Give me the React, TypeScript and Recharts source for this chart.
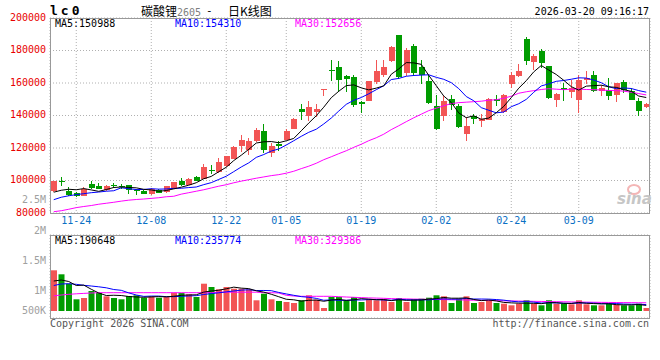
import React from 'react';
import { ComposedChart, Bar, Line, XAxis, YAxis, CartesianGrid, Cell } from 'recharts';

const dates = [
  '11-19', '11-20', '11-21', '11-24', '11-25', '11-26', '11-27', '11-28',
  '12-01', '12-02', '12-03', '12-04', '12-05', '12-08', '12-09', '12-10', '12-11', '12-12',
  '12-15', '12-16', '12-17', '12-18', '12-19', '12-22', '12-23', '12-24', '12-25', '12-26',
  '12-29', '12-30', '12-31',
  '01-05', '01-06', '01-07', '01-08', '01-09', '01-12', '01-13', '01-14', '01-15', '01-16',
  '01-19', '01-20', '01-21', '01-22', '01-23', '01-26', '01-27', '01-28', '01-29', '01-30',
  '02-02', '02-03', '02-04', '02-05', '02-06', '02-09', '02-10', '02-11', '02-12', '02-13',
  '02-24', '02-25', '02-26', '02-27',
  '03-02', '03-03', '03-04', '03-05', '03-06', '03-09', '03-10', '03-11', '03-12', '03-13',
  '03-16', '03-17', '03-18', '03-19', '03-20',
];

const opens = [
  93300, 99600, 93700, 92300, 90300, 97800, 96800, 93900, 97100, 96700,
  97000, 94200, 93700, 91900, 93900, 93000, 95000, 99400, 97000, 101900,
  101100, 106300, 105000, 108700, 113400, 121400, 118500, 124100, 130200, 116900,
  122600, 124700, 131900, 144200, 139400, 142200, 156000, 168200, 169600, 164100,
  163400, 148100, 149100, 160400, 164700, 173700, 189700, 166200, 182500, 169600,
  161400, 146000, 139900, 150400, 146000, 128800, 139900, 136800, 137400, 150400,
  141900, 159600, 164500, 187300, 172700, 179400, 170200, 149700, 156900, 154500,
  149700, 161600, 165100, 154800, 155900, 152400, 160400, 154800, 148700, 145000,
];

const highs = [
  99800, 102300, 96000, 93000, 95800, 99600, 98500, 97000, 98500, 98000,
  97500, 94500, 94000, 95500, 94500, 96800, 99000, 101500, 101300, 102500,
  110200, 109300, 113800, 115300, 121000, 128200, 126000, 132300, 134800, 123300,
  124100, 131500, 138200, 147000, 148700, 147100, 156500, 174300, 173700, 165100,
  165100, 148700, 161200, 174300, 174300, 182500, 189700, 181500, 184000, 174000,
  165100, 152800, 152200, 152800, 147100, 139100, 141100, 141000, 150800, 152800,
  153400, 166800, 171900, 188300, 177800, 181100, 170500, 154000, 160000, 162000,
  165100, 167100, 167600, 158900, 163100, 160300, 161600, 156900, 150800, 148000,
];

const lows = [
  93000, 97000, 90200, 90000, 90000, 94800, 94700, 93500, 95500, 94800,
  92000, 90800, 91500, 91000, 92000, 92500, 94800, 96800, 96800, 99700,
  101000, 104000, 104500, 108300, 113000, 118000, 115500, 123500, 117000, 114800,
  118000, 124500, 131500, 137400, 136400, 139400, 152300, 161400, 154800, 154800,
  145500, 141500, 148800, 159600, 164100, 172700, 162500, 164500, 164100, 159000,
  147500, 131500, 137000, 143600, 132200, 124100, 134800, 133000, 137000, 146200,
  141500, 156900, 164000, 170800, 168200, 169200, 150500, 145600, 148700, 150800,
  141900, 158900, 154500, 152200, 149700, 148700, 153800, 149400, 139900, 145000,
];

const closes = [
  99400, 99400, 90800, 90500, 95000, 95300, 95000, 96400, 96800, 96500,
  94000, 93800, 91700, 95000, 92300, 96400, 98800, 97000, 101000, 100000,
  108600, 106000, 111400, 114800, 120500, 125100, 124100, 130800, 118500, 121400,
  121400, 130200, 138000, 141900, 145200, 144000, 156500, 167200, 161600, 162700,
  146200, 147300, 161000, 167100, 169600, 181900, 163700, 180500, 166200, 165100,
  148000, 131900, 148700, 146600, 132700, 133300, 137800, 138000, 150300, 149200,
  152800, 164700, 167100, 173300, 176400, 172300, 150800, 153400, 155400, 156900,
  161600, 163100, 154800, 156900, 151800, 160000, 155900, 149700, 142500, 147200,
];

// MA values before a full window exists
const ma5Head = [92800, 94000, 94600, 94300];
const ma10Head = [88200, 89700, 90600, 91300, 91900, 92500, 92900, 93400, 93700];

const ma30 = [
  80800, 81400, 82300, 83300, 84000, 84600, 85400, 86000, 86600, 87300,
  87900, 88300, 88600, 89000, 89400, 90000, 90300, 91600, 92500, 93400,
  94300, 95400, 96500, 97400, 98600, 99600, 100500, 101400, 102200, 103000,
  103600, 104500, 105700, 107300, 108800, 110600, 112800, 114600, 116500, 118300,
  120400, 122300, 124500, 126300, 128500, 131300, 133700, 136200, 138600, 140800,
  143000, 144500, 146000, 147300, 147900, 148200, 148500, 148800, 149400, 149700,
  150600, 151900, 153700, 154600, 155300, 156000, 156500, 156200, 155900, 156200,
  156300, 156000, 155900, 155700, 155400, 155300, 155000, 154300, 153500, 152656,
];

const volumes = [
  1628000, 1468000, 1092000, 468000, 520000, 800000, 720000, 588000, 520000, 468000,
  600000, 628000, 532000, 588000, 532000, 560000, 732000, 720000, 668000, 560000,
  1092000, 960000, 868000, 960000, 892000, 892000, 868000, 428000, 692000, 468000,
  400000, 360000, 320000, 428000, 628000, 452000, 120000, 560000, 560000, 428000,
  560000, 360000, 468000, 428000, 468000, 360000, 520000, 360000, 468000, 492000,
  532000, 628000, 588000, 320000, 492000, 588000, 320000, 360000, 428000, 320000,
  292000, 228000, 292000, 428000, 292000, 228000, 428000, 292000, 292000, 268000,
  428000, 268000, 228000, 228000, 292000, 252000, 228000, 228000, 292000, 120000,
];

const volMa5Head = [1200000, 1240000, 1180000, 1020000];
const volMa10Head = [1020000, 1080000, 1092000, 1068000, 1028000, 1000000, 968000, 928000, 860000];

const volMa30 = [
  608000, 640000, 668000, 688000, 704000, 720000, 732000, 732000, 732000, 732000,
  732000, 732000, 732000, 732000, 732000, 732000, 732000, 732000, 732000, 732000,
  732000, 732000, 752000, 752000, 752000, 752000, 752000, 752000, 732000, 732000,
  720000, 628000, 600000, 588000, 588000, 588000, 588000, 588000, 572000, 560000,
  548000, 536000, 524000, 516000, 508000, 496000, 488000, 484000, 476000, 472000,
  468000, 462000, 456000, 450000, 444000, 438000, 432000, 426000, 420000, 414000,
  408000, 402000, 397000, 392000, 387000, 382000, 377000, 372000, 367000, 362000,
  358000, 354000, 350000, 346000, 342000, 339000, 336000, 334000, 331000, 329386,
];

const priceTicks = [80000, 100000, 120000, 140000, 160000, 180000, 200000];
const dateTicks = ['11-24', '12-08', '12-22', '01-05', '01-19', '02-02', '02-24', '03-09'];
const priceLegend = ['MA5:150988', 'MA10:154310', 'MA30:152656'];
const volumeLegend = ['MA5:190648', 'MA10:235774', 'MA30:329386'];

const RED = '#f25555';
const GREEN = '#009c00';
const MA_COLORS = ['#000000', '#0000ff', '#ff00ff'];
const GRID = '#b0b0b0';
const BORDER = '#999999';
const MONO = '"DejaVu Sans Mono", monospace';
const CJK = '"Noto Sans CJK SC", sans-serif';

const VOL_MIN = -280000;
const VOL_MAX = 3040000;
const volGrid = [0, 1, 2, 3, 4].map((k) => VOL_MIN + ((VOL_MAX - VOL_MIN) * k) / 4);

function movingAverage(values: number[], n: number, head: number[]) {
  return values.map((_, i) => {
    if (i < n - 1) return head[i];
    let s = 0;
    for (let k = i - n + 1; k <= i; k++) s += values[k];
    return Math.round(s / n);
  });
}

const ma5 = movingAverage(closes, 5, ma5Head);
const ma10 = movingAverage(closes, 10, ma10Head);
const volMa5 = movingAverage(volumes, 5, volMa5Head);
const volMa10 = movingAverage(volumes, 10, volMa10Head);

const priceData = dates.map((date, i) => ({
  date,
  open: opens[i],
  high: highs[i],
  low: lows[i],
  close: closes[i],
  range: [lows[i], highs[i]],
  ma5: ma5[i],
  ma10: ma10[i],
  ma30: ma30[i],
}));

const volumeData = dates.map((date, i) => ({
  date,
  vol: volumes[i],
  up: closes[i] >= opens[i],
  ma5: volMa5[i],
  ma10: volMa10[i],
  ma30: volMa30[i],
}));

const Candle = (props: any) => {
  const { x, y, width, height, payload } = props;
  if (!payload || x == null) return null;
  const { open, close, high, low } = payload;
  const color = close >= open ? RED : GREEN;
  const top = Math.min(y, y + height);
  const h = Math.abs(height);
  const span = high - low || 1;
  const toY = (v: number) => top + ((high - v) / span) * h;
  const cx = Math.round(x + width / 2);
  const bodyTop = Math.round(toY(Math.max(open, close)));
  const bodyBot = Math.round(toY(Math.min(open, close)));
  return (
    <g>
      <rect x={cx - 1} y={Math.round(top)} width={1} height={Math.max(1, Math.round(h))} fill={color} />
      <rect x={cx - 3} y={bodyTop} width={6} height={Math.max(1, bodyBot - bodyTop)} fill={color} />
    </g>
  );
};

const tickFont = { fontSize: 10, fontFamily: MONO };

const Legend = ({ items, top }: { items: string[]; top: number }) => (
  <>
    {items.map((t, i) => (
      <span
        key={t}
        style={{
          position: 'absolute',
          left: 55 + i * 120,
          top,
          fontSize: 10,
          lineHeight: '9px',
          height: 9,
          background: '#fff',
          color: MA_COLORS[i],
          whiteSpace: 'pre',
        }}
      >
        {t}
      </span>
    ))}
  </>
);

const volLabel = (text: string, centerY: number) => (
  <div
    key={text}
    style={{
      position: 'absolute',
      right: 614,
      top: centerY - 6,
      fontSize: 10,
      lineHeight: '12px',
      color: '#a0a0a0',
    }}
  >
    {text}
  </div>
);

export default function App() {
  return (
    <div
      style={{
        position: 'absolute',
        left: 0,
        top: 0,
        width: 660,
        height: 360,
        background: '#fff',
        overflow: 'hidden',
        fontFamily: MONO,
        color: '#000',
      }}
    >
      {/* price panel */}
      <div style={{ position: 'absolute', left: 0, top: 0 }}>
        <ComposedChart width={660} height={230} data={priceData} margin={{ top: 18, right: 10, bottom: 0, left: 0 }}>
          <CartesianGrid stroke={GRID} strokeDasharray="1 2" />
          <XAxis
            dataKey="date"
            ticks={dateTicks}
            interval={0}
            axisLine={false}
            tickLine={false}
            tickSize={0}
            tickMargin={4}
            height={17}
            tick={{ ...tickFont, fill: '#0a70c4' }}
          />
          <YAxis
            domain={[80000, 200000]}
            ticks={priceTicks}
            interval={0}
            allowDataOverflow
            width={50}
            axisLine={false}
            tickLine={false}
            tickSize={0}
            tickMargin={4}
            tick={{ ...tickFont, fill: '#e80000', dy: -1 }}
          />
          <Bar dataKey="range" barSize={6} isAnimationActive={false} shape={(p: any) => <Candle {...p} />} />
          <Line dataKey="ma30" stroke={MA_COLORS[2]} strokeWidth={1} dot={false} isAnimationActive={false} />
          <Line dataKey="ma10" stroke={MA_COLORS[1]} strokeWidth={1} dot={false} isAnimationActive={false} />
          <Line dataKey="ma5" stroke={MA_COLORS[0]} strokeWidth={1} dot={false} isAnimationActive={false} />
        </ComposedChart>
      </div>

      {/* volume panel */}
      <div style={{ position: 'absolute', left: 0, top: 230 }}>
        <ComposedChart width={660} height={88} data={volumeData} margin={{ top: 5, right: 10, bottom: 0, left: 0 }}>
          <CartesianGrid stroke={GRID} strokeDasharray="1 2" />
          <XAxis dataKey="date" ticks={dateTicks} interval={0} height={0} tick={false} axisLine={false} tickLine={false} />
          <YAxis
            domain={[VOL_MIN, VOL_MAX]}
            ticks={volGrid}
            interval={0}
            allowDataOverflow
            width={50}
            tick={false}
            axisLine={false}
            tickLine={false}
          />
          <Bar dataKey="vol" barSize={6} isAnimationActive={false}>
            {volumeData.map((d, i) => (
              <Cell key={`v-${i}`} fill={d.up ? RED : GREEN} />
            ))}
          </Bar>
          <Line dataKey="ma30" stroke={MA_COLORS[2]} strokeWidth={1} dot={false} isAnimationActive={false} />
          <Line dataKey="ma10" stroke={MA_COLORS[1]} strokeWidth={1} dot={false} isAnimationActive={false} />
          <Line dataKey="ma5" stroke={MA_COLORS[0]} strokeWidth={1} dot={false} isAnimationActive={false} />
        </ComposedChart>
      </div>

      {/* frames */}
      <div style={{ position: 'absolute', left: 50, top: 18, width: 600, height: 196, boxSizing: 'border-box', border: `1px solid ${BORDER}` }} />
      <div style={{ position: 'absolute', left: 50, top: 235, width: 600, height: 84, boxSizing: 'border-box', border: `1px solid ${BORDER}` }} />

      {/* title row */}
      <div style={{ position: 'absolute', left: 50, top: 3, fontSize: 13, fontWeight: 'bold', letterSpacing: 3, lineHeight: '16px' }}>lc0</div>
      <div style={{ position: 'absolute', left: 141, top: 3, fontSize: 12, lineHeight: '16px', fontFamily: CJK, whiteSpace: 'pre' }}>
        碳酸锂<span style={{ color: '#808080', fontFamily: MONO, fontSize: 10 }}>2605</span>
      </div>
      <div style={{ position: 'absolute', left: 206, top: 4, fontSize: 11, lineHeight: '14px' }}>-</div>
      <div style={{ position: 'absolute', left: 228, top: 3, fontSize: 12, lineHeight: '16px', fontFamily: CJK }}>日K线图</div>
      <div style={{ position: 'absolute', right: 11, top: 6, fontSize: 10, lineHeight: '12px' }}>2026-03-20 09:16:17</div>

      <Legend items={priceLegend} top={19} />
      <Legend items={volumeLegend} top={236} />

      {volLabel('2.5M', 200)}
      {volLabel('2M', 231)}
      {volLabel('1.5M', 261)}
      {volLabel('1M', 291)}
      {volLabel('500K', 311)}

      {/* watermark */}
      <div
        style={{
          position: 'absolute',
          left: 627,
          top: 184,
          width: 10,
          height: 7,
          border: '2px solid #f4b6b6',
          borderRadius: '50%',
        }}
      />
      <div
        style={{
          position: 'absolute',
          left: 617,
          top: 191,
          fontFamily: '"DejaVu Sans", sans-serif',
          fontStyle: 'italic',
          fontWeight: 'bold',
          fontSize: 15,
          lineHeight: '16px',
          color: '#c6c6c6',
        }}
      >
        sina
      </div>

      <div style={{ position: 'absolute', left: 50, top: 318, fontSize: 10, lineHeight: '11px', color: '#555' }}>Copyright 2026 SINA.COM</div>
      <div style={{ position: 'absolute', right: 11, top: 318, fontSize: 10, lineHeight: '11px', color: '#555' }}>http://finance.sina.com.cn</div>
    </div>
  );
}
